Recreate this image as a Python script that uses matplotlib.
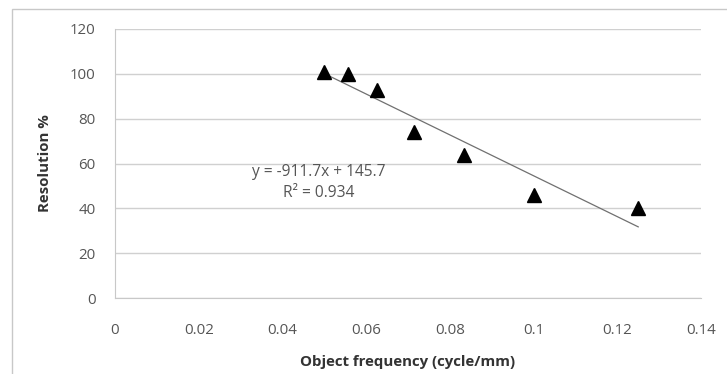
import matplotlib
matplotlib.use("Agg")
import matplotlib.pyplot as plt
from matplotlib.patches import Rectangle
import numpy as np

# Data
frequency = [0.05, 0.0556, 0.0625, 0.0714, 0.0833, 0.1, 0.125]
resolution = [101, 100, 93, 74, 64, 46, 40]
slope = -911.7
intercept = 145.7
eq_text = "y = -911.7x + 145.7"
r2_text = "R² = 0.934"
x_ticks = [0, 0.02, 0.04, 0.06, 0.08, 0.1, 0.12, 0.14]
x_tick_labels = ["0", "0.02", "0.04", "0.06", "0.08", "0.1", "0.12", "0.14"]
y_ticks = [0, 20, 40, 60, 80, 100, 120]

W, H = 727, 374
plt.rcParams['font.family'] = ['Open Sans', 'DejaVu Sans']
fig = plt.figure(figsize=(W / 100, H / 100), dpi=100)

# outer chart border
fig.patches.append(Rectangle((12 / W, -0.2), 1.2, 1.2 - 9 / H, transform=fig.transFigure,
                             fill=False, edgecolor='#c8c8c8', linewidth=1.0))

left, right, top, bottom = 115, 701, 29, 298
ax = fig.add_axes([left / W, 1 - bottom / H, (right - left) / W, (bottom - top) / H])
ax.set_xlim(0, 0.14)
ax.set_ylim(0, 120)

ax.set_yticks(y_ticks)
ax.set_xticks(x_ticks)
ax.set_xticklabels(x_tick_labels)
ax.yaxis.grid(True, color='#d0d0d0', linewidth=1.0)
ax.set_axisbelow(True)
for s in ['top', 'right']:
    ax.spines[s].set_visible(False)
ax.spines['left'].set_color('#c8c8c8')
ax.spines['bottom'].set_color('#c8c8c8')
ax.tick_params(axis='both', length=0, labelsize=10.8, colors='#555555')
ax.tick_params(axis='x', pad=18)
ax.tick_params(axis='y', pad=14)

# trendline
xs = np.array([min(frequency), max(frequency)])
ax.plot(xs, slope * xs + intercept, color='#707070', linewidth=0.9, zorder=2)

ax.plot(frequency, resolution, linestyle='none', marker='^', markersize=10.5,
        color='black', zorder=3, clip_on=False)

ax.text(0.0486, 56.0, eq_text, ha='center', va='center', fontsize=11.2, color='#555555')
ax.text(0.0486, 47.0, r2_text, ha='center', va='center', fontsize=11.2, color='#555555')

fig.text(408 / W, 1 - 362 / H, "Object frequency (cycle/mm)", ha='center', va='center',
         fontsize=10.8, fontweight='bold', color='#333333')
fig.text(45 / W, 1 - 163 / H, "Resolution %", ha='center', va='center', rotation=90,
         fontsize=10.8, fontweight='bold', color='#333333')

fig.savefig("out.png", dpi=100)
